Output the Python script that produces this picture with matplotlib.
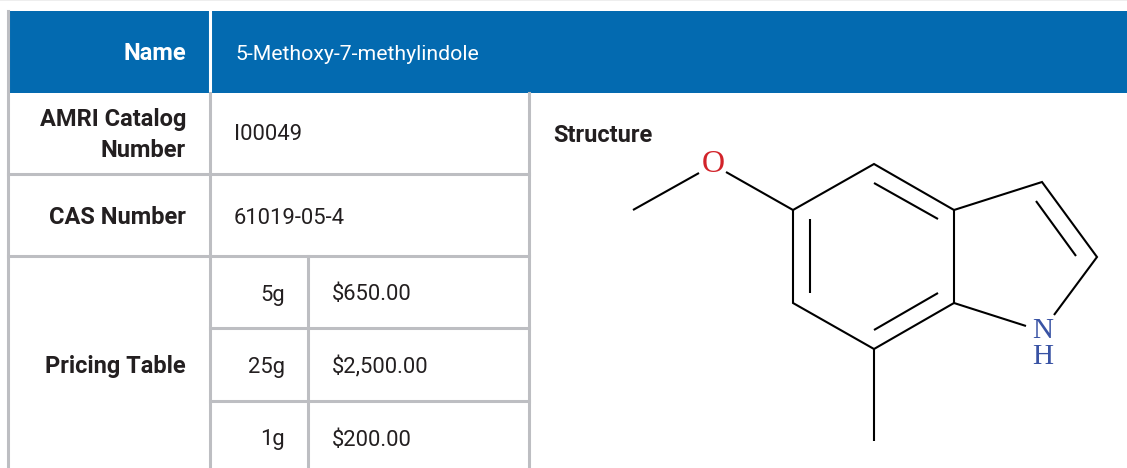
import matplotlib
matplotlib.use('Agg')
import matplotlib.pyplot as plt

name_label = 'Name'
compound = '5-Methoxy-7-methylindole'
row_labels = ['AMRI Catalog\nNumber', 'CAS Number', 'Pricing Table']
row_values = ['I00049', '61019-05-4']
sizes = ['5g', '25g', '1g']
prices = ['$650.00', '$2,500.00', '$200.00']
structure_label = 'Structure'

# bonds of the molecule, pixel positions
bonds = [
    [(633, 210), (699, 173)],
    [(726, 172), (793, 210), (874, 164), (954, 210), (954, 303), (874, 349), (793, 303), (793, 210)],
    [(874, 183), (938, 219)],
    [(810, 219), (810, 293)],
    [(874, 330), (938, 293)],
    [(954, 210), (1042, 182), (1097, 257), (1054, 315)],
    [(1036, 201), (1076, 256)],
    [(954, 303), (1026, 326)],
    [(874, 349), (874, 441)],
]

grey = '#bdbec2'
blue = '#036ab0'
dark = '#231f20'
font = ['Roboto', 'DejaVu Sans']

fig = plt.figure(figsize=(11.27, 4.68), dpi=100)
ax = fig.add_axes([0, 0, 1, 1])
ax.set_xlim(0, 1127)
ax.set_ylim(468, 0)
ax.axis('off')

ax.fill_between([0, 1127], 0, 1, color='#eeeeee', lw=0)
ax.fill_between([8, 1127], 11, 92.5, color=blue, lw=0)

# table lines
ax.plot([7.5, 7.5], [11, 468], color=grey, lw=2.2)
ax.plot([210, 210], [11, 92], color='white', lw=2.2)
ax.plot([210, 210], [93, 468], color=grey, lw=2.2)
ax.plot([529, 529], [93, 468], color=grey, lw=2.2)
ax.plot([308, 308], [256, 468], color=grey, lw=2.2)
ax.plot([8, 529], [174, 174], color=grey, lw=2.2)
ax.plot([8, 529], [256, 256], color=grey, lw=2.2)
ax.plot([210, 529], [328, 328], color=grey, lw=2.2)
ax.plot([210, 529], [401, 401], color=grey, lw=2.2)

ax.text(186, 54, name_label, color='white', fontsize=17, fontweight='bold', family=font, ha='right', va='center')
ax.text(235, 54, compound, color='white', fontsize=15.3, family=font, ha='left', va='center')

row_y = [135, 218, 367]
for lab, y in zip(row_labels, row_y):
    ax.text(186, y, lab, color=dark, fontsize=17, fontweight='bold', family=font, ha='right', va='center', linespacing=1.45)
value_y = [135, 218]
for val, y in zip(row_values, value_y):
    ax.text(234, y, val, color=dark, fontsize=15.8, family=font, ha='left', va='center')

price_y = [295, 367, 440]
for s, p, y in zip(sizes, prices, price_y):
    ax.text(285, y, s, color=dark, fontsize=15.8, family=font, ha='right', va='center')
    ax.text(332, y, p, color=dark, fontsize=15.8, family=font, ha='left', va='center')

ax.text(553, 136, structure_label, color=dark, fontsize=17, fontweight='bold', family=font, ha='left', va='center')

for b in bonds:
    ax.plot([q[0] for q in b], [q[1] for q in b], color='black', lw=1.5, solid_joinstyle='miter', solid_capstyle='butt')

ax.text(713, 165, 'O', color='#d2232a', fontsize=23, family='Liberation Serif', ha='center', va='center')
ax.text(1043, 344, 'N\nH', color='#3953a4', fontsize=21, family='Liberation Serif', ha='center', va='center', linespacing=0.95)

fig.savefig('out.png', dpi=100)
